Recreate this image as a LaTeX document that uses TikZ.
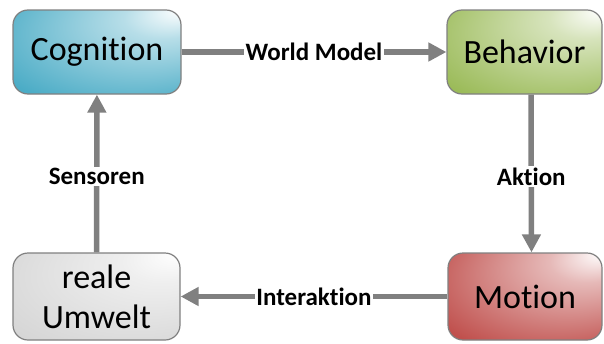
\documentclass[tikz,border=0pt]{standalone}
\usepackage{fontspec}
\setmainfont{Carlito}[Ligatures=NoCommon]
\usetikzlibrary{arrows.meta}

\definecolor{cogblue}{HTML}{4BACC6}
\definecolor{behgreen}{HTML}{9BBB59}
\definecolor{motred}{HTML}{C0504D}
\definecolor{envgray}{HTML}{D6D6D6}
\definecolor{edgegray}{HTML}{808080}

% radial fills, bright spot in the upper right corner
\pgfdeclareradialshading{cogshade}{\pgfpoint{25bp}{25bp}}{color(0bp)=(white); color(12bp)=(cogblue!40!white); color(42bp)=(cogblue); color(60bp)=(cogblue)}
\pgfdeclareradialshading{behshade}{\pgfpoint{25bp}{25bp}}{color(0bp)=(white); color(12bp)=(behgreen!40!white); color(42bp)=(behgreen); color(60bp)=(behgreen)}
\pgfdeclareradialshading{motshade}{\pgfpoint{25bp}{25bp}}{color(0bp)=(white); color(12bp)=(motred!40!white); color(42bp)=(motred); color(60bp)=(motred)}
\pgfdeclareradialshading{envshade}{\pgfpoint{25bp}{25bp}}{color(0bp)=(white); color(12bp)=(envgray!40!white); color(42bp)=(envgray); color(60bp)=(envgray)}

\tikzset{
  block/.style={draw=edgegray, line width=1.2pt, rounded corners=15pt, shade,
    align=center, font=\fontsize{34}{40}\selectfont},
  flow/.style={draw=edgegray, line width=5.5pt, -{Triangle[length=18pt,width=18pt]}},
  lbl/.style={fill=white, inner sep=1.5pt, font=\fontsize{25}{30}\selectfont\bfseries},
}

\begin{document}
\begin{tikzpicture}[x=1pt,y=-1pt]
  \useasboundingbox (0,0) rectangle (604,343);

  \node[block, shading=cogshade, minimum width=168pt, minimum height=84pt] (cog) at (97,52) {Cognition};
  \node[block, shading=behshade, minimum width=155pt, minimum height=84pt] (beh) at (524.5,52) {Behavior};
  \node[block, shading=motshade, minimum width=154pt, minimum height=87pt] (mot) at (525,296.5) {Motion};
  \node[block, shading=envshade, minimum width=167pt, minimum height=87pt] (env) at (96.5,296.5) {reale\\Umwelt};

  \draw[flow] (cog) -- node[lbl] {World Model} (beh);
  \draw[flow] ([xshift=6.5pt]beh.south) -- node[lbl, pos=0.52] {Aktion} ([xshift=6.5pt]mot.north);
  \draw[flow] (mot) -- node[lbl] {Interaktion} (env);
  \draw[flow] (env) -- node[lbl, pos=0.48] {Sensoren} (cog);
\end{tikzpicture}
\end{document}
